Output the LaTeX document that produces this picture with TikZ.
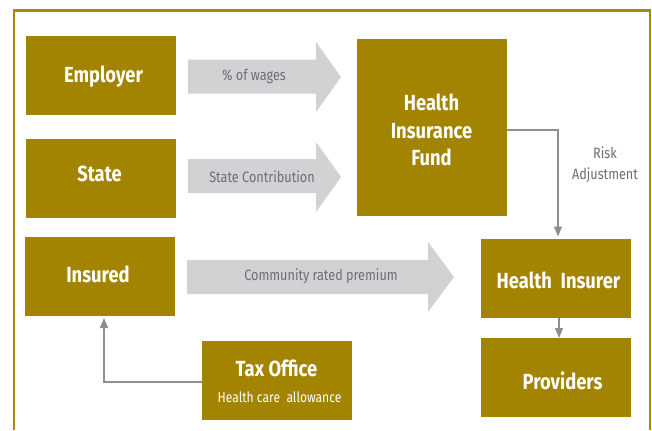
\documentclass[tikz,border=0pt]{standalone}
\usepackage{fontspec}
\setmainfont{Fira Sans}[FakeStretch=0.84]
\usetikzlibrary{arrows.meta}
\definecolor{gold}{HTML}{A28400}
\definecolor{band}{HTML}{D1D2D4}
\definecolor{ink}{HTML}{6D6E71}
\definecolor{wire}{HTML}{8C8E91}
\tikzset{
  x=0.75pt,y=-0.75pt,
  boxnode/.style={fill=gold,minimum width=112.5pt,minimum height=59.25pt,inner sep=0pt,outer sep=0pt},
  boxtext/.style={text=white,font=\fontsize{16.4}{19}\selectfont\bfseries,align=center,inner sep=0pt},
  bandtext/.style={text=ink,font=\fontsize{11.3}{13}\selectfont,align=center,inner sep=0pt},
  subtext/.style={text=white,font=\fontsize{10.8}{13}\selectfont,inner sep=0pt},
  wireline/.style={draw=wire,line width=0.8pt,-{Triangle[length=7.5pt,width=6pt]}},
  bandarrow/.style={fill=band,draw=none}
}
\begin{document}
\begin{tikzpicture}
\useasboundingbox (0,0) rectangle (652,430);
\fill[white] (0,0) rectangle (652,430);
\draw[gold!95!white,line width=1.9pt,line cap=butt] (14,430) -- (14,10.5) -- (650,10.5) -- (650,430);

\fill[bandarrow] (188,59.5) -- (316,59.5) -- (316,42) -- (341,77) -- (316,112) -- (316,93.5) -- (188,93.5) -- cycle;
\fill[bandarrow] (188,159) -- (316,159) -- (316,142) -- (341,177) -- (316,212) -- (316,193) -- (188,193) -- cycle;
\fill[bandarrow] (187,260) -- (428,260) -- (428,242) -- (454,277) -- (428,312) -- (428,294) -- (187,294) -- cycle;

\node[boxnode] (employer) at (101,75.5) {};
\node[boxtext] (employerlabel) at (103.5,76.5) {Employer};
\node[boxnode] (state) at (101,178.5) {};
\node[boxtext] (statelabel) at (99.5,174) {State};
\node[boxnode] (insured) at (100,276.5) {};
\node[boxtext] (insuredlabel) at (98,274.5) {Insured};
\node[boxnode] (taxoffice) at (277,380.5) {};
\node[boxtext] (taxlabel) at (276.5,368.5) {Tax Office};
\node[subtext] (allowance) at (279.5,397.5) {Health care\ \ allowance};
\node[boxnode,minimum height=132.75pt] (fund) at (432,127.5) {};
\node[boxtext] (fundlabel) at (431.5,130) {Health\\[1.6pt]Insurance\\[1.6pt]Fund};
\node[boxnode] (insurer) at (556,278.5) {};
\node[boxtext] (insurerlabel) at (558.5,280.5) {Health\ \ Insurer};
\node[boxnode] (providers) at (556,377.5) {};
\node[boxtext] (providerslabel) at (562.5,380.5) {Providers};

\node[bandtext] (wages) at (254,76.5) {\% of wages};
\node[bandtext] (contribution) at (262,177) {State Contribution};
\node[bandtext] (premium) at (321,276.5) {Community rated premium};
\node[bandtext] (risk) at (605,164.5) {Risk\\[2.5pt]Adjustment};

\coordinate (fundout) at (507,130);
\coordinate (fundbend) at (558,130);
\coordinate (fundin) at (558,236.5);
\coordinate (taxout) at (202,382);
\coordinate (taxbend) at (104,382);
\coordinate (insuredin) at (104,318);
\coordinate (insurerout) at (559,318);
\coordinate (providersin) at (559,338);
\draw[wireline] (fundout) -- (fundbend) -- (fundin);
\draw[wireline] (insurerout) -- (providersin);
\draw[wireline] (taxout) -- (taxbend) -- (insuredin);
\end{tikzpicture}
\end{document}
